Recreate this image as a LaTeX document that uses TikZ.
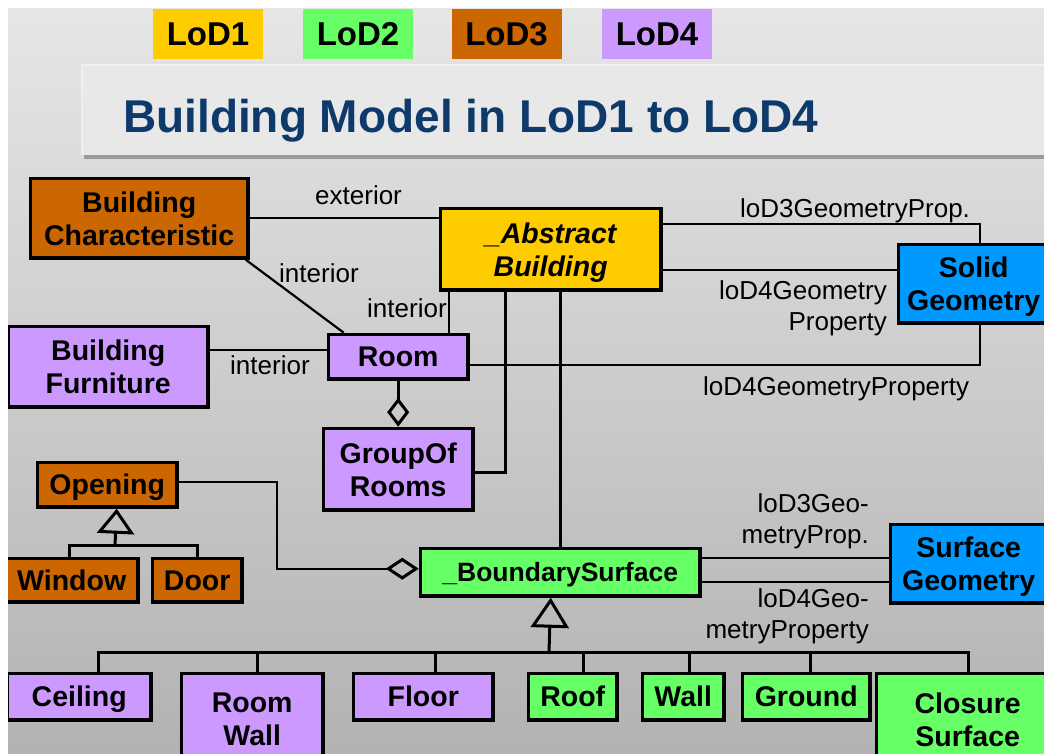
\documentclass[tikz,border=0pt]{standalone}
\usepackage{fontspec}
\setmainfont{Liberation Sans}
\usetikzlibrary{arrows.meta}
\definecolor{cbrown}{HTML}{CC6600}
\definecolor{cyellow}{HTML}{FFCC00}
\definecolor{cgreen}{HTML}{66FF66}
\definecolor{cpurple}{HTML}{CC99FF}
\definecolor{cblue}{HTML}{0099FF}
\definecolor{ctitle}{HTML}{0D3A6A}
\definecolor{bgtop}{HTML}{E6E6E6}
\definecolor{bgbot}{HTML}{B2B2B2}
\definecolor{bandfill}{HTML}{E8E8E8}
\definecolor{bandedge}{HTML}{F0F0F0}
\definecolor{bandshadow}{HTML}{9A9A9A}
\tikzset{
  ubox/.style={draw=black, line width=3.4pt, inner sep=0pt, anchor=north west,
    font=\bfseries\fontsize{28.5}{33}\selectfont},
  twoline/.style={align=center},
  oneline/.style={text height=20.5pt, text depth=0pt},
  lodbox/.style={inner sep=0pt, minimum width=110pt, minimum height=50pt,
    text height=23.6pt, text depth=0pt, font=\bfseries\fontsize{33}{36}\selectfont},
  assoc/.style={line width=2.2pt, draw=black},
  tree/.style={line width=3pt, draw=black},
  lbl/.style={inner sep=0pt, font=\fontsize{26}{31}\selectfont},
}
\newcommand{\ubox}[8]{%
  \pgfmathsetmacro{\ubW}{#4-#2-3.4}%
  \pgfmathsetmacro{\ubH}{#5-#3-3.4}%
  \node[ubox, fill=#6, minimum width=\ubW pt, minimum height=\ubH pt, #7] (#1) at ({#2+1.7},{#3+1.7}) {#8};}
\begin{document}
\begin{tikzpicture}[x=1pt, y=-1pt]
\useasboundingbox (0,0) rectangle (1044,754);
\fill[white] (0,0) rectangle (1044,754);
\begin{scope}
\clip (8,9) rectangle (1044,754);
\shade[top color=bgtop, bottom color=bgbot] (8,9) rectangle (1044,754);
% title band
\fill[bandshadow] (84,154) rectangle (1044,159);
\fill[bandfill] (81,64) rectangle (1044,155);
\draw[bandedge, line width=2pt] (82,155) -- (82,65) -- (1044,65);
\node[anchor=base west, inner sep=0pt, text=ctitle, font=\bfseries\fontsize{46}{50}\selectfont] (title) at (123,133) {Building Model in LoD1 to LoD4};
% LoD legend
\node[lodbox, fill=cyellow] (lod1) at (208,34) {LoD1};
\node[lodbox, fill=cgreen] (lod2) at (358,34) {LoD2};
\node[lodbox, fill=cbrown] (lod3) at (506.5,34) {LoD3};
\node[lodbox, fill=cpurple] (lod4) at (657,34) {LoD4};
% boxes
\ubox{bchar}{27}{175}{248}{258}{cbrown}{twoline}{Building\\\smash{Characteristic}}
\ubox{abs}{437}{205}{661}{290}{cyellow}{twoline, font=\bfseries\itshape\fontsize{28.5}{33}\selectfont}{\_Abstract\\\smash{Building}}
\ubox{solid}{895}{241}{1049}{323}{cblue}{twoline}{Solid\\\smash{Geometry}}
\ubox{furn}{5}{323}{208}{407}{cpurple}{twoline}{Building\\\smash{Furniture}}
\ubox{room}{325}{331}{468}{379}{cpurple}{oneline}{Room}
\ubox{group}{320}{425}{473}{510}{cpurple}{twoline}{GroupOf\\\smash{Rooms}}
\ubox{opening}{34}{459}{177}{507}{cbrown}{oneline}{Opening}
\ubox{window}{2}{555}{138}{602}{cbrown}{oneline}{Window}
\ubox{door}{149}{555}{242}{602}{cbrown}{oneline}{Door}
\ubox{bsurf}{417}{545}{700}{596}{cgreen}{oneline, font=\bfseries\fontsize{26.5}{31}\selectfont, text height=19pt}{\_BoundarySurface}
\ubox{sgeom}{887}{521}{1047}{603}{cblue}{twoline}{Surface\\\smash{Geometry}}
\ubox{ceiling}{4}{670}{151}{720}{cpurple}{oneline}{Ceiling}
\ubox{roomwall}{178}{670}{323}{765}{cpurple}{twoline}{Room\\\smash{Wall}}
\ubox{floor}{350}{670}{493}{720}{cpurple}{oneline}{Floor}
\ubox{roof}{525}{670}{617}{720}{cgreen}{oneline}{Roof}
\ubox{wall}{639}{670}{724}{720}{cgreen}{oneline}{Wall}
\ubox{ground}{739}{670}{870}{720}{cgreen}{oneline}{Ground}
\ubox{closure}{873}{670}{1059}{765}{cgreen}{twoline}{Closure\\\smash{Surface}}
% free junction points
\coordinate (bsj) at (549,652);
\coordinate (opj) at (115,545);
% associations
\draw[assoc] (bchar.east) -- (bchar.east -| abs.west);
\draw[assoc] ([xshift=-4pt]bchar.south east) -- ([xshift=17pt]room.north west);
\draw[assoc] ([xshift=10.5pt]abs.south west) -- ([xshift=10.5pt]abs.south west |- room.north);
\draw[assoc] ([yshift=7pt]room.west) -- ([yshift=7pt]room.west -| furn.east);
\draw[assoc] ([yshift=25.5pt]abs.east) -| ([xshift=6pt]solid.north);
\draw[assoc] ([yshift=-20.5pt]abs.east) -- ([yshift=-20.5pt]abs.east -| solid.west);
\draw[assoc] ([yshift=-8pt]room.east) -| ([xshift=6pt]solid.south);
\draw[tree, -{Diamond[open, length=29pt, width=22pt]}] (room.south) -- (group.north);
\draw[tree] ([yshift=-3.5pt]group.east) -| ([xshift=66.4pt]abs.south west);
\draw[tree] ([xshift=121.4pt]abs.south west) -- ([xshift=121.4pt]abs.south west |- bsurf.north);
\draw[assoc, -{Diamond[open, length=33pt, width=22pt, line width=3pt]}] ([yshift=3pt]opening.east) -- ++(98pt,0pt) |- ([yshift=3.5pt]bsurf.west);
\draw[assoc] ([yshift=14.5pt]bsurf.east) -- ([yshift=14.5pt]bsurf.east -| sgeom.west);
\draw[assoc] ([yshift=-9.5pt]bsurf.east) -- ([yshift=-9.5pt]bsurf.east -| sgeom.west);
% generalisation of _BoundarySurface
\draw[tree, {Triangle[open, length=30pt, width=38pt]}-] ([xshift=-9.5pt]bsurf.south) -- (bsj);
\draw[tree] ([xshift=19.5pt]ceiling.north) |- (bsj) -| ([xshift=1pt]closure.north);
\draw[tree] ([xshift=5.5pt]roomwall.north) -- ([xshift=5.5pt]roomwall.north |- bsj);
\draw[tree] ([xshift=12.5pt]floor.north) -- ([xshift=12.5pt]floor.north |- bsj);
\draw[tree] ([xshift=11pt]roof.north) -- ([xshift=11pt]roof.north |- bsj);
\draw[tree] ([xshift=6.5pt]wall.north) -- ([xshift=6.5pt]wall.north |- bsj);
\draw[tree] ([xshift=4pt]ground.north) -- ([xshift=4pt]ground.north |- bsj);
% generalisation of Opening
\draw[tree, {Triangle[open, length=25pt, width=37pt]}-] ([xshift=9.5pt]opening.south) -- (opj);
\draw[tree] ([xshift=-2pt]window.north) |- (opj) -| (door.north);
% labels
\node[lbl, anchor=base west] (lext) at (315,205) {exterior};
\node[lbl, anchor=base west] (lint1) at (279,282) {interior};
\node[lbl, anchor=base west] (lint2) at (367,317) {interior};
\node[lbl, anchor=base west] (lint3) at (230,374) {interior};
\node[lbl, anchor=base west] (l3s) at (740,218) {loD3GeometryProp.};
\node[lbl, anchor=north east, align=right] (l4s) at (887,280) {loD4Geometry\\Property};
\node[lbl, anchor=base west] (l4r) at (703,395) {loD4GeometryProperty};
\node[lbl, anchor=north east, align=right] (l3b) at (869,493) {loD3Geo-\\metryProp.};
\node[lbl, anchor=north east, align=right] (l4b) at (869,588) {loD4Geo-\\metryProperty};
\end{scope}
\end{tikzpicture}
\end{document}
